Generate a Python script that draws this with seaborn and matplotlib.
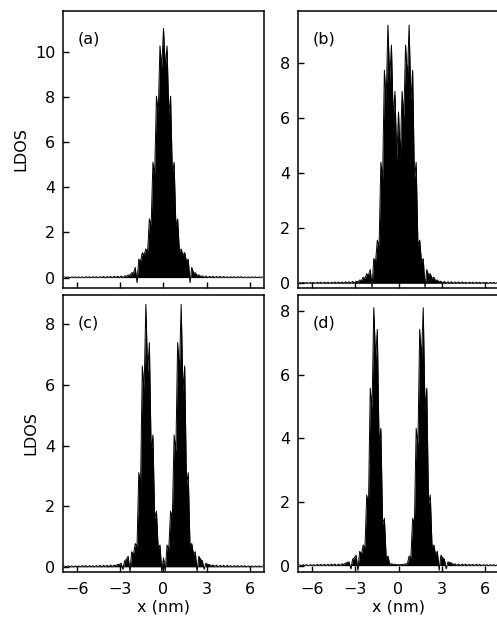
import numpy as np
import pandas as pd
import matplotlib
matplotlib.use("Agg")
import matplotlib.pyplot as plt
import seaborn as sns

# Lattice spacing along x (nm): LDOS is sampled on atomic columns k*a,
# and between neighbouring columns (k+0.5)*a.
a_lat = 0.246
site_index = np.arange(-28, 29)
x_site = site_index * a_lat
x_mid = (site_index[:-1] + 0.5) * a_lat

# LDOS on atomic columns, k = -28 ... 28
ldos_a = [0.03, 0.03, 0.03, 0.03, 0.03, 0.03, 0.04, 0.04, 0.04, 0.04, 0.04, 0.05, 0.05, 0.05,
          0.06, 0.06, 0.07, 0.08, 0.12, 0.22, 0.45, 0.82, 1.11, 1.27, 2.60, 5.11, 8.04, 10.27,
          11.04,
          10.27, 8.04, 5.11, 2.60, 1.27, 1.11, 0.82, 0.45, 0.22, 0.12, 0.08, 0.07, 0.06, 0.06,
          0.05, 0.05, 0.05, 0.04, 0.04, 0.04, 0.04, 0.04, 0.03, 0.03, 0.03, 0.03, 0.03, 0.03]
ldos_b = [0.03, 0.03, 0.03, 0.03, 0.03, 0.04, 0.04, 0.04, 0.04, 0.04, 0.05, 0.05, 0.05, 0.06,
          0.06, 0.07, 0.08, 0.12, 0.22, 0.35, 0.50, 0.90, 1.57, 4.40, 7.75, 9.39, 8.66, 6.98,
          6.23,
          6.98, 8.66, 9.39, 7.75, 4.40, 1.57, 0.90, 0.50, 0.35, 0.22, 0.12, 0.08, 0.07, 0.06,
          0.06, 0.05, 0.05, 0.05, 0.04, 0.04, 0.04, 0.04, 0.04, 0.03, 0.03, 0.03, 0.03, 0.03]
ldos_c = [0.03, 0.03, 0.03, 0.03, 0.03, 0.04, 0.04, 0.04, 0.04, 0.04, 0.05, 0.05, 0.05, 0.06,
          0.06, 0.08, 0.12, 0.20, 0.35, 0.50, 0.77, 3.11, 6.63, 8.66, 7.40, 4.35, 1.84, 0.72,
          0.30,
          0.72, 1.84, 4.35, 7.40, 8.66, 6.63, 3.11, 0.77, 0.50, 0.35, 0.20, 0.12, 0.08, 0.06,
          0.06, 0.05, 0.05, 0.05, 0.04, 0.04, 0.04, 0.04, 0.04, 0.03, 0.03, 0.03, 0.03, 0.03]
ldos_d = [0.03, 0.03, 0.03, 0.03, 0.03, 0.04, 0.04, 0.04, 0.04, 0.05, 0.05, 0.05, 0.06, 0.08,
          0.12, 0.20, 0.33, 0.45, 0.65, 2.22, 5.58, 8.11, 7.43, 4.32, 1.49, 0.30, 0.06, 0.04,
          0.03,
          0.04, 0.06, 0.30, 1.49, 4.32, 7.43, 8.11, 5.58, 2.22, 0.65, 0.45, 0.33, 0.20, 0.12,
          0.08, 0.06, 0.05, 0.05, 0.05, 0.04, 0.04, 0.04, 0.04, 0.03, 0.03, 0.03, 0.03, 0.03]

# LDOS between neighbouring columns, k + 0.5 = -27.5 ... 27.5
mid_a = [0.01, 0.00, 0.01, 0.00, 0.01, 0.00, 0.01, 0.00, 0.01, 0.00, 0.01, 0.00, 0.01, 0.00,
         0.01, 0.00, 0.01, 0.05, 0.10, 0.20, -0.22, 0.72, 1.00, 1.15, 2.30, 4.60, 7.20, 9.30,
         9.30, 7.20, 4.60, 2.30, 1.15, 1.00, 0.72, -0.22, 0.20, 0.10, 0.05, 0.01, 0.00, 0.01,
         0.00, 0.01, 0.00, 0.01, 0.00, 0.01, 0.00, 0.01, 0.00, 0.01, 0.00, 0.01, 0.00, 0.01]
mid_b = [0.00, 0.01, 0.00, 0.01, 0.00, 0.01, 0.00, 0.01, 0.00, 0.01, 0.00, 0.01, 0.00, 0.01,
         0.00, 0.01, 0.05, 0.10, 0.18, 0.30, -0.15, 0.78, 1.35, 3.80, 6.60, 7.40, 6.00, 4.50,
         4.50, 6.00, 7.40, 6.60, 3.80, 1.35, 0.78, -0.15, 0.30, 0.18, 0.10, 0.05, 0.01, 0.00,
         0.01, 0.00, 0.01, 0.00, 0.01, 0.00, 0.01, 0.00, 0.01, 0.00, 0.01, 0.00, 0.01, 0.00]
mid_c = [0.00, 0.01, 0.00, 0.01, 0.00, 0.01, 0.00, 0.01, 0.00, 0.01, 0.00, 0.01, 0.00, 0.01,
         0.03, 0.08, -0.08, 0.25, -0.15, 0.40, 0.68, 2.70, 5.80, 6.40, 3.80, 1.60, 0.60, -0.15,
         -0.15, 0.60, 1.60, 3.80, 6.40, 5.80, 2.70, 0.68, 0.40, -0.15, 0.25, -0.08, 0.08, 0.03,
         0.01, 0.00, 0.01, 0.00, 0.01, 0.00, 0.01, 0.00, 0.01, 0.00, 0.01, 0.00, 0.01, 0.00]
mid_d = [0.00, 0.01, 0.00, 0.01, 0.00, 0.01, 0.00, 0.01, 0.00, 0.01, 0.00, 0.01, 0.04, 0.10,
         -0.10, 0.25, -0.15, 0.35, 0.57, 1.95, 4.90, 6.50, 3.80, 1.30, 0.25, 0.05, 0.04, 0.03,
         0.03, 0.04, 0.05, 0.25, 1.30, 3.80, 6.50, 4.90, 1.95, 0.57, 0.35, -0.15, 0.25, -0.10,
         0.10, 0.04, 0.01, 0.00, 0.01, 0.00, 0.01, 0.00, 0.01, 0.00, 0.01, 0.00, 0.01, 0.00]

panel_tags = ["(a)", "(b)", "(c)", "(d)"]
panel_sites = [ldos_a, ldos_b, ldos_c, ldos_d]
panel_mids = [mid_a, mid_b, mid_c, mid_d]
y_limits = [(-0.46, 11.81), (-0.17, 9.90), (-0.17, 8.97), (-0.20, 8.51)]
y_ticks = [[0, 2, 4, 6, 8, 10], [0, 2, 4, 6, 8], [0, 2, 4, 6, 8], [0, 2, 4, 6, 8]]
x_ticks = [-6, -3, 0, 3, 6]
x_ticklabels = ["\u22126", "\u22123", "0", "3", "6"]


def profile(sites, mids):
    """Interleave column and between-column samples into one ordered profile."""
    assert len(sites) == len(x_site) and len(mids) == len(x_mid)
    xs, ys = [], []
    for i in range(len(mids)):
        xs += [x_site[i], x_mid[i]]
        ys += [sites[i], mids[i]]
    xs.append(x_site[-1])
    ys.append(sites[-1])
    return pd.DataFrame({"x": xs, "LDOS": ys})


sns.set_style("ticks")
plt.rcParams.update({
    "font.family": ["DejaVu Sans"],
    "axes.linewidth": 1.1,
    "axes.edgecolor": "black",
    "axes.labelcolor": "black",
    "text.color": "black",
    "xtick.color": "black",
    "ytick.color": "black",
})

W, H = 497, 622
fig = plt.figure(figsize=(W / 100, H / 100), dpi=100)

col_left = [63, 298]
row_top = [11, 295]
ax_w, ax_h = 201, 277

for idx in range(4):
    r, c = divmod(idx, 2)
    l = col_left[c] / W
    b = 1 - (row_top[r] + ax_h) / H
    ax = fig.add_axes([l, b, ax_w / W, ax_h / H])

    df = profile(panel_sites[idx], panel_mids[idx])
    ax.fill_between(df["x"], df["LDOS"], 0, color="black", linewidth=0)
    sns.lineplot(data=df, x="x", y="LDOS", ax=ax, color="black",
                 linewidth=0.7, estimator=None, sort=False)

    ax.set_xlim(-7, 7)
    ax.set_ylim(*y_limits[idx])
    ax.set_xticks(x_ticks)
    ax.set_yticks(y_ticks[idx])
    ax.tick_params(direction="in", length=4, width=1, labelsize=11.5)
    ax.tick_params(axis="x", pad=7)
    ax.tick_params(axis="y", pad=5.5)
    for s in ax.spines.values():
        s.set_linewidth(1.1)
        s.set_visible(True)

    ax.text(0.075, 0.90, panel_tags[idx], transform=ax.transAxes,
            ha="left", va="center", fontsize=11.5)

    if r == 0:
        ax.set_xticklabels([])
        ax.set_xlabel("")
    else:
        ax.set_xticklabels(x_ticklabels)
        ax.set_xlabel("x (nm)", fontsize=11.5, labelpad=2)
    if c == 0:
        ax.set_ylabel("LDOS", fontsize=11.5, labelpad=5)
    else:
        ax.set_ylabel("")

fig.savefig("out.png", dpi=100)
